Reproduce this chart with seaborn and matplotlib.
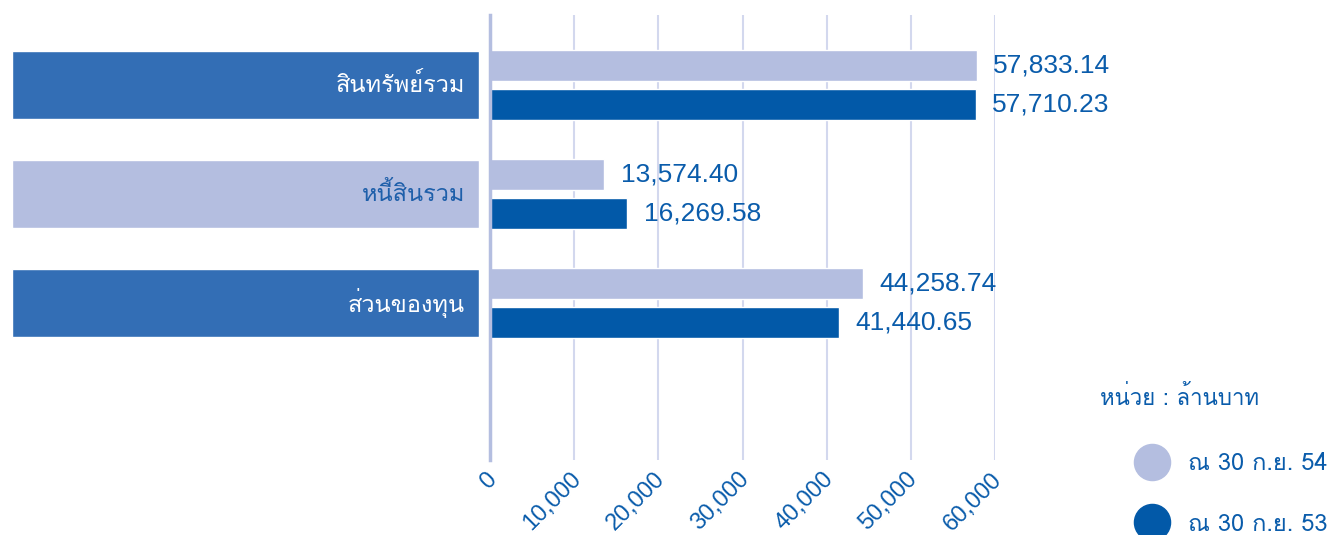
import pandas as pd
import seaborn as sns
import matplotlib
matplotlib.use("Agg")
from matplotlib import pyplot as plt
from matplotlib import font_manager
from matplotlib.lines import Line2D
from matplotlib.transforms import ScaledTranslation

# data
categories = ["สินทรัพย์รวม", "หนี้สินรวม", "ส่วนของทุน"]
periods = ["ณ 30 ก.ย. 54", "ณ 30 ก.ย. 53"]
values_54 = [57833.14, 13574.40, 44258.74]
values_53 = [57710.23, 16269.58, 41440.65]
x_ticks = [0, 10000, 20000, 30000, 40000, 50000, 60000]
unit_label = "หน่วย : ล้านบาท"

LIGHT = "#B4BEE0"
DARK = "#0259A8"
BOX_DARK = "#336EB5"
TEXT_BLUE = "#0A5CAB"
GRID = "#D3D8EE"


def find_thai_font():
    """Return the name of an installed font that has Thai glyphs."""
    from fontTools.ttLib import TTFont
    for f in font_manager.fontManager.ttflist:
        try:
            font = TTFont(f.fname, fontNumber=0, lazy=True)
            if ord("ส") in font.getBestCmap():
                return f.name
        except Exception:
            continue
    return "DejaVu Sans"


sns.set_theme(style="white")
thai = find_thai_font()
plt.rcParams["font.family"] = [thai, "Liberation Sans", "DejaVu Sans"]

df = pd.DataFrame({
    "category": categories * 2,
    "period": [periods[0]] * len(categories) + [periods[1]] * len(categories),
    "value": values_54 + values_53,
})

W, H = 1338, 535
fig = plt.figure(figsize=(W / 100, H / 100), dpi=100)
ax = fig.add_axes([490 / W, 1 - 460 / H, (995 - 490) / W, (460 - 15) / H])

sns.barplot(data=df, y="category", x="value", hue="period", order=categories,
            hue_order=periods, palette=[LIGHT, DARK], saturation=1,
            width=0.71, gap=0.2, orient="h", legend=False, ax=ax)

ax.set_xlim(0, 60000)
ax.set_ylim(3.44, -0.642)
ax.set_xlabel("")
ax.set_ylabel("")
ax.set_yticks([])
ax.set_xticks(x_ticks)
ax.set_xticklabels([f"{t:,}" for t in x_ticks], rotation=45, ha="right", va="top",
                   color=TEXT_BLUE, fontsize=17, family="Liberation Sans")
ax.tick_params(axis="x", length=0, pad=6)
shift = ScaledTranslation(11 / 100, 0, fig.dpi_scale_trans)
for lab in ax.get_xticklabels():
    lab.set_transform(lab.get_transform() + shift)
ax.grid(axis="x", color=GRID, lw=1.5)
ax.set_axisbelow(True)
for side in ["top", "right", "bottom"]:
    ax.spines[side].set_visible(False)
ax.spines["left"].set_color(LIGHT)
ax.spines["left"].set_linewidth(2.5)

# value labels
for container, vals in zip(ax.containers, [values_54, values_53]):
    for bar, v in zip(container, vals):
        ax.annotate(f"{v:,.2f}", xy=(bar.get_width(), bar.get_y() + bar.get_height() / 2),
                    xytext=(12, 0), textcoords="offset points", ha="left", va="center",
                    color=TEXT_BLUE, fontsize=19, family="Liberation Sans",
                    annotation_clip=False)

# category boxes on the left
axl = fig.add_axes([12 / W, 1 - 460 / H, 467 / W, (460 - 15) / H])
box_colors = [BOX_DARK, LIGHT, BOX_DARK]
text_colors = ["white", "#1E5FAA", "white"]
axl.barh(range(len(categories)), [1] * len(categories), height=0.63, color=box_colors)
axl.set_xlim(0, 1)
axl.set_ylim(3.44, -0.642)
axl.axis("off")
for i, (cat, tc) in enumerate(zip(categories, text_colors)):
    axl.text(0.97, i, cat, ha="right", va="center", color=tc, fontsize=17)

# unit note and legend
fig.text(1100 / W, 1 - 398 / H, unit_label, ha="left", va="center",
         color=TEXT_BLUE, fontsize=16)
handles = [Line2D([], [], marker="o", ls="", markersize=26,
                  markerfacecolor=c, markeredgecolor=c) for c in [LIGHT, DARK]]
fig.legend(handles, periods, loc="upper left", bbox_to_anchor=(1122 / W, 1 - 440 / H),
           frameon=False, fontsize=17, labelcolor=TEXT_BLUE, handletextpad=0.8,
           labelspacing=1.6, borderpad=0, handlelength=1.5)

fig.savefig("out.png", dpi=100)
